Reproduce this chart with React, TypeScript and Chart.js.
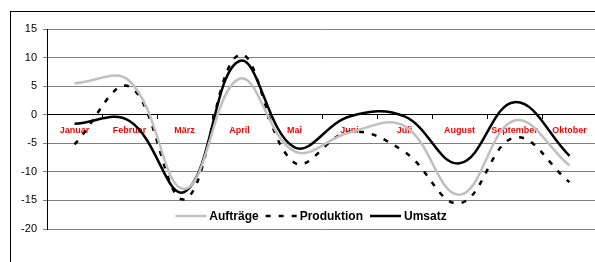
import React, { useEffect, useRef } from "react";
import { Chart, registerables } from "chart.js";

Chart.register(...registerables);

const categories = ["Januar", "Februar", "März", "April", "Mai", "Juni", "Juli", "August", "September", "Oktober"];
const auftraege = [5.5, 5.9, -13.0, 6.3, -6.4, -3.1, -2.0, -14.0, -1.0, -8.9];
const produktion = [-5.2, 4.9, -14.8, 10.5, -8.4, -3.0, -6.5, -15.5, -4.0, -11.8];
const umsatz = [-1.6, -1.1, -13.5, 9.4, -5.7, -0.3, -0.3, -8.5, 2.2, -7.2];
const yTicks = [15, 10, 5, 0, -5, -10, -15, -20];

const FONT = '"Liberation Sans", Arial, sans-serif';

const framePlugin = {
  id: "frame",
  beforeDraw(chart: any) {
    const ctx = chart.ctx;
    ctx.save();
    ctx.strokeStyle = "#000";
    ctx.lineWidth = 1;
    ctx.strokeRect(10.5, 11.5, 800, 400);
    ctx.restore();
  },
};

const legendPlugin = {
  id: "inlineLegend",
  afterDraw(chart: any) {
    const ctx = chart.ctx;
    const area = chart.chartArea;
    const ds = chart.data.datasets;
    ctx.save();
    ctx.font = `bold 12px ${FONT}`;
    const lineLen = 31;
    const gapLine = 3;
    const gapItem = 7;
    const widths = ds.map((d: any) => ctx.measureText(d.label).width);
    let total = 0;
    widths.forEach((w: number) => (total += lineLen + gapLine + w));
    total += gapItem * (ds.length - 1);
    const cx = area.left + (area.right - area.left) * 0.48;
    let x = cx - total / 2;
    const y = area.bottom - 13;
    ds.forEach((d: any, i: number) => {
      ctx.beginPath();
      ctx.setLineDash(d.borderDash || []);
      ctx.strokeStyle = d.borderColor;
      ctx.lineWidth = d.borderWidth;
      ctx.moveTo(x, y);
      ctx.lineTo(x + lineLen, y);
      ctx.stroke();
      ctx.setLineDash([]);
      x += lineLen + gapLine;
      ctx.fillStyle = "#000";
      ctx.textBaseline = "middle";
      ctx.textAlign = "left";
      ctx.fillText(d.label, x, y + 1);
      x += widths[i] + gapItem;
    });
    ctx.restore();
  },
};

export default function App() {
  const ref = useRef<HTMLCanvasElement | null>(null);
  useEffect(() => {
    if (!ref.current) return;
    const chart = new Chart(ref.current, {
      type: "line",
      data: {
        labels: categories,
        datasets: [
          { label: "Aufträge", data: auftraege, borderColor: "#c0c0c0", borderWidth: 2.5, pointRadius: 0, tension: 0.4, fill: false },
          { label: "Produktion", data: produktion, borderColor: "#000", borderWidth: 2.5, borderDash: [5, 8], pointRadius: 0, tension: 0.4, fill: false },
          { label: "Umsatz", data: umsatz, borderColor: "#000", borderWidth: 2.5, pointRadius: 0, tension: 0.4, fill: false },
        ],
      },
      options: {
        responsive: false,
        animation: false,
        layout: { padding: { left: 0, top: 29, right: 23, bottom: 33 } },
        plugins: { legend: { display: false }, tooltip: { enabled: false } },
        scales: {
          x: {
            type: "category",
            position: { y: 0 } as any,
            offset: true,
            afterFit: (s: any) => { s.height = 0; },
            grid: { display: true, drawOnChartArea: false, drawTicks: true, tickLength: 4, color: "#000", offset: true },
            border: { display: true, color: "#000", width: 1 },
            ticks: { autoSkip: false, maxRotation: 0, minRotation: 0, padding: 6, color: "#ff0000", font: { family: FONT, size: 9, weight: "bold" } },
          },
          y: {
            min: -20,
            max: 15,
            afterFit: (s: any) => { s.width = 47; },
            afterBuildTicks: (s: any) => { s.ticks = yTicks.map((v) => ({ value: v })); },
            grid: { color: "#808080", lineWidth: 1, tickLength: 4 },
            border: { display: true, color: "#000", width: 1 },
            ticks: { padding: 6, color: "#000", font: { family: FONT, size: 11 } },
          },
        },
      },
      plugins: [framePlugin, legendPlugin],
    });
    return () => chart.destroy();
  }, []);
  return (
    <div style={{ position: "fixed", left: 0, top: 0, width: 595, height: 262, overflow: "hidden", background: "#fff" }}>
      <canvas ref={ref} width={620} height={262} style={{ width: 620, height: 262, display: "block" }} />
    </div>
  );
}
